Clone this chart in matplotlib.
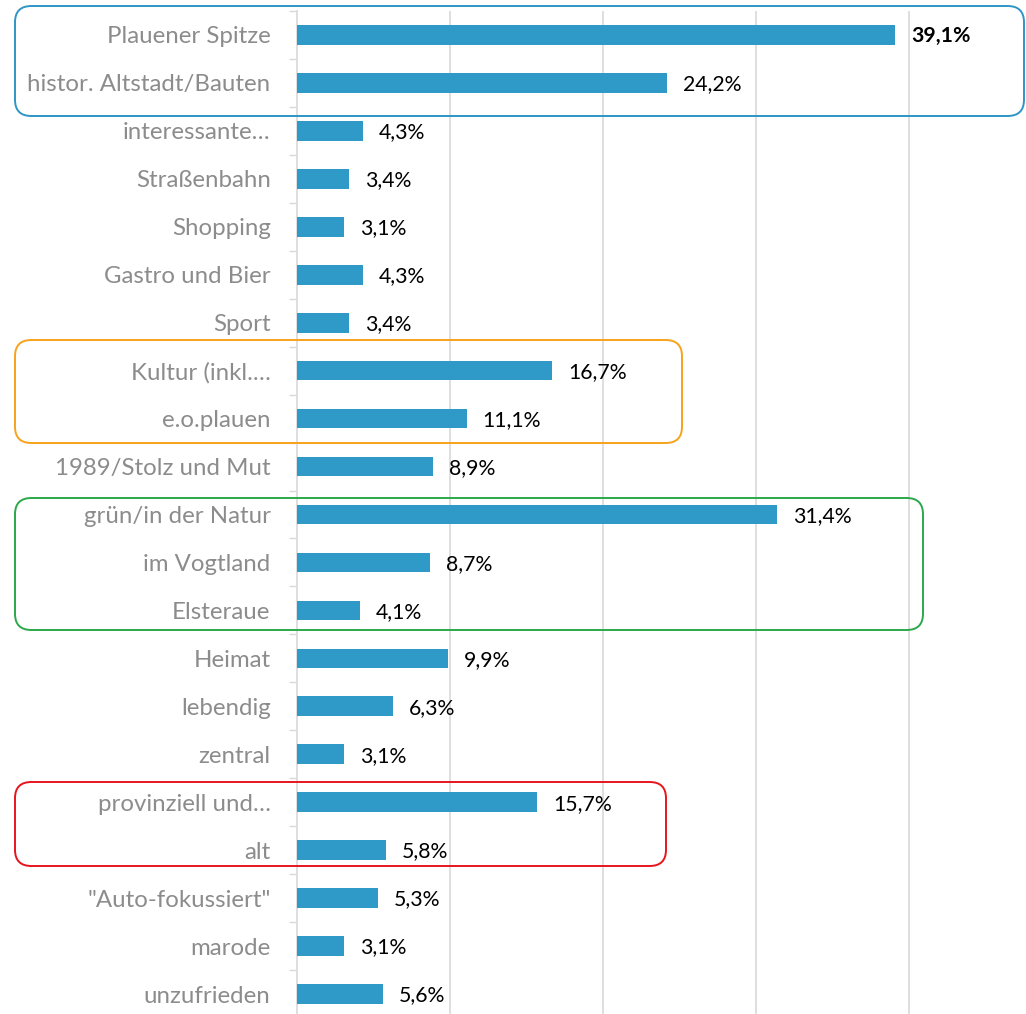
from matplotlib import pyplot as plt
from matplotlib.patches import FancyBboxPatch

# category labels, top to bottom
categories = [
    'Plauener Spitze', 'histor. Altstadt/Bauten', 'interessante…', 'Straßenbahn',
    'Shopping', 'Gastro und Bier', 'Sport', 'Kultur (inkl.…', 'e.o.plauen',
    '1989/Stolz und Mut', 'grün/in der Natur', 'im Vogtland', 'Elsteraue',
    'Heimat', 'lebendig', 'zentral', 'provinziell und…', 'alt',
    '"Auto-fokussiert"', 'marode', 'unzufrieden',
]
shares = [
    39.1, 24.2, 4.3, 3.4, 3.1, 4.3, 3.4, 16.7, 11.1, 8.9, 31.4, 8.7, 4.1,
    9.9, 6.3, 3.1, 15.7, 5.8, 5.3, 3.1, 5.6,
]
grid_ticks = [10, 20, 30, 40]

# highlight frames (pixel boxes: left, top, right, bottom) and their colours
frame_boxes = [(15, 6, 1024, 116), (15, 340, 682, 443),
               (15, 498, 923, 630), (15, 782, 666, 866)]
frame_colors = ['#2e95c6', '#f7a21b', '#2aa84a', '#e8141c']

W, H = 1026, 1014
plt.rcParams['font.family'] = ['Lato', 'DejaVu Sans']

fig = plt.figure(figsize=(W / 100, H / 100), dpi=100)
ax = fig.add_axes([297 / W, -4 / H, 1 - 297 / W, 1007 / H])

ypos = list(range(len(categories)))
ax.barh(ypos, shares, height=0.41, color='#2f99c7', zorder=3)
ax.set_ylim(len(categories) - 0.5, -0.5)
ax.set_xlim(0, 47.68)

ax.set_yticks(ypos)
ax.set_yticklabels(categories, fontsize=17.3, color='#8c8c8c')
ax.tick_params(axis='y', which='major', length=0, pad=19)
ax.set_yticks([i - 0.5 for i in range(len(categories) + 1)], minor=True)
ax.tick_params(axis='y', which='minor', length=6, color='#d9d9d9', width=1)

ax.set_xticks(grid_ticks)
ax.tick_params(axis='x', length=0, labelbottom=False)
ax.grid(axis='x', color='#d9d9d9', linewidth=1.2, zorder=0)
ax.set_axisbelow(True)

for name in ['top', 'right', 'bottom']:
    ax.spines[name].set_visible(False)
ax.spines['left'].set_color('#d9d9d9')
ax.spines['left'].set_linewidth(1.2)

for i, v in enumerate(shares):
    label = f'{v:.1f}%'.replace('.', ',')
    ax.annotate(label, (v, i), xytext=(11.5, -1), textcoords='offset points',
                va='center', ha='left', fontsize=15.3, color='black',
                fontweight='bold' if i == 0 else 'normal', zorder=4)

# rounded highlight frames around groups of rows
for (x0, y0, x1, y1), col in zip(frame_boxes, frame_colors):
    box = FancyBboxPatch((x0 / W, 1 - y1 / H), (x1 - x0) / W, (y1 - y0) / H,
                         boxstyle='round,pad=0,rounding_size=0.016',
                         transform=fig.transFigure, fill=False,
                         edgecolor=col, linewidth=1.4, zorder=5)
    fig.patches.append(box)

plt.savefig('out.png', dpi=100)
